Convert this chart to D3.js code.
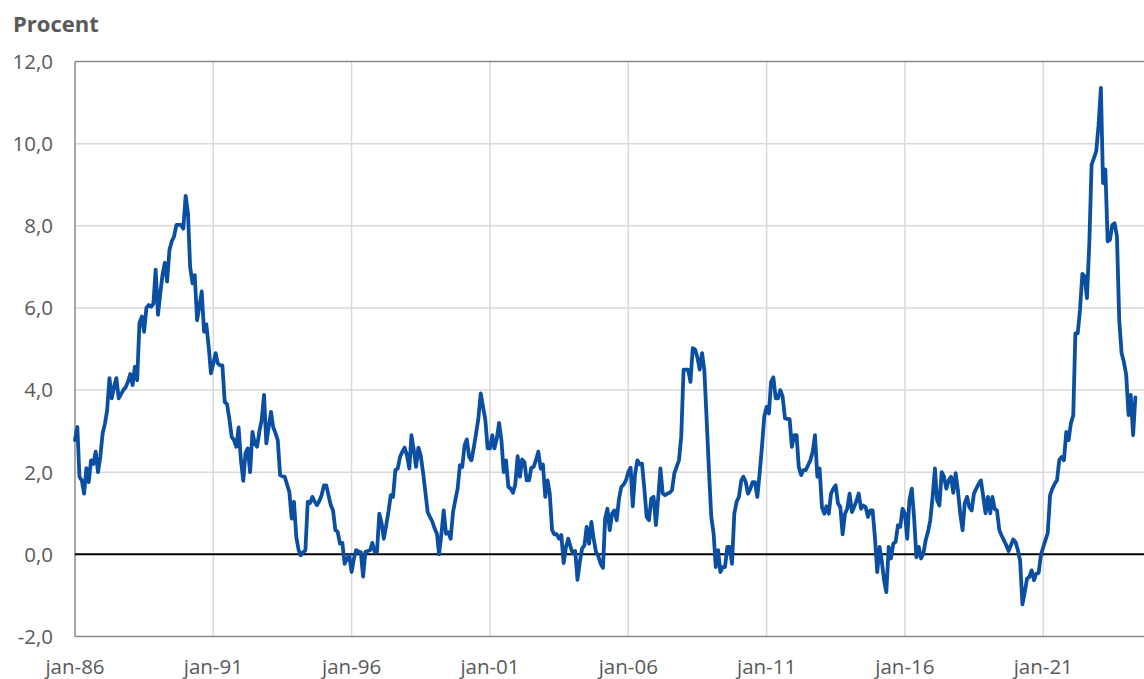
<!DOCTYPE html>
<html>
<head>
<meta charset="utf-8">
<script src="https://cdn.jsdelivr.net/npm/d3@7/dist/d3.min.js"></script>
<style>
  html, body { margin: 0; padding: 0; background: #ffffff; }
  svg { display: block; }
  text { font-family: "Open Sans", "Noto Sans", sans-serif; fill: #595959; }
</style>
</head>
<body>
<svg id="chart" width="1144" height="679"></svg>
<script>
// ---- Data (monthly, starting January 1986) ----
const startYear = 1986;
const seriesLabel = "Procent";
const values = [
  // 1986
  2.78, 3.1, 1.89, 1.8, 1.48, 2.1, 1.76, 2.29, 2.2, 2.5, 2.0, 2.37,
  // 1987
  2.95, 3.19, 3.5, 4.29, 3.8, 4.08, 4.29, 3.8, 3.9, 4.0, 4.07, 4.2,
  // 1988
  4.39, 4.12, 4.57, 4.24, 5.63, 5.79, 5.42, 6.0, 6.07, 6.03, 6.1, 6.93,
  // 1989
  5.83, 6.37, 6.8, 7.1, 6.64, 7.41, 7.62, 7.74, 8.02, 8.02, 8.02, 7.93,
  // 1990
  8.73, 8.3, 7.0, 6.6, 6.8, 5.7, 6.03, 6.4, 5.42, 5.6, 5.06, 4.41,
  // 1991
  4.65, 4.9, 4.65, 4.6, 4.6, 3.71, 3.66, 3.3, 2.86, 2.78, 2.62, 3.09,
  // 1992
  2.29, 1.79, 2.46, 2.58, 2.0, 2.98, 2.7, 2.62, 3.0, 3.27, 3.88, 2.7,
  // 1993
  3.1, 3.47, 3.1, 2.95, 2.78, 1.93, 1.9, 1.89, 1.7, 1.52, 0.87, 1.28,
  // 1994
  0.42, 0.1, -0.02, 0.05, 0.1, 1.28, 1.25, 1.4, 1.28, 1.2, 1.3, 1.44,
  // 1995
  1.68, 1.68, 1.45, 1.2, 1.07, 0.59, 0.55, 0.26, 0.28, -0.23, -0.1, -0.02,
  // 1996
  -0.43, -0.1, 0.1, 0.07, 0.05, -0.54, 0.06, 0.08, 0.1, 0.28, 0.06, 0.06,
  // 1997
  0.99, 0.75, 0.38, 0.7, 1.03, 1.44, 1.4, 2.05, 2.09, 2.37, 2.5, 2.6,
  // 1998
  2.41, 2.09, 2.9, 2.54, 2.13, 2.6, 2.41, 2.0, 1.52, 1.03, 0.91, 0.8,
  // 1999
  0.63, 0.5, 0.0, 0.5, 1.07, 0.5, 0.54, 0.38, 1.03, 1.32, 1.6, 2.17,
  // 2000
  2.13, 2.66, 2.8, 2.37, 2.29, 2.6, 2.94, 3.31, 3.92, 3.59, 3.27, 2.58,
  // 2001
  2.58, 2.9, 2.58, 2.82, 3.2, 2.78, 2.0, 2.29, 1.64, 1.6, 1.5, 1.7,
  // 2002
  2.39, 1.89, 2.31, 2.25, 1.8, 1.8, 2.11, 2.13, 2.3, 2.5, 2.09, 2.19,
  // 2003
  1.4, 1.8, 1.48, 0.59, 0.49, 0.49, 0.38, 0.47, -0.21, 0.18, 0.38, 0.18,
  // 2004
  0.02, 0.08, -0.62, -0.19, 0.14, 0.22, 0.67, 0.26, 0.79, 0.38, 0.06, -0.04,
  // 2005
  -0.23, -0.33, 0.87, 1.11, 0.59, 0.99, 1.07, 0.83, 1.36, 1.64, 1.7, 1.8,
  // 2006
  2.0, 2.11, 1.17, 1.96, 2.29, 2.19, 2.21, 1.6, 0.91, 0.83, 1.36, 1.4,
  // 2007
  0.71, 1.4, 2.09, 1.48, 1.44, 1.48, 1.5, 1.56, 1.97, 2.13, 2.29, 2.86,
  // 2008
  4.5, 4.5, 4.5, 4.2, 5.02, 4.99, 4.8, 4.5, 4.9, 4.49, 3.27, 2.05,
  // 2009
  0.91, 0.5, -0.31, 0.1, -0.43, -0.31, -0.31, 0.18, 0.18, -0.23, 0.99, 1.28,
  // 2010
  1.4, 1.8, 1.89, 1.76, 1.48, 1.6, 1.76, 1.76, 1.4, 1.97, 2.62, 3.35,
  // 2011
  3.59, 3.43, 4.2, 4.31, 3.8, 3.8, 4.0, 3.84, 3.31, 3.3, 3.29, 2.62,
  // 2012
  2.9, 2.9, 2.13, 1.93, 2.05, 2.05, 2.17, 2.29, 2.5, 2.9, 1.89, 2.09,
  // 2013
  1.15, 0.99, 1.17, 0.99, 1.48, 1.6, 1.68, 1.24, 1.15, 0.49, 0.99, 1.11,
  // 2014
  1.48, 1.03, 1.15, 1.3, 1.48, 1.11, 1.19, 1.15, 0.91, 1.07, 1.07, 0.42,
  // 2015
  -0.43, 0.18, -0.15, -0.63, -0.92, 0.18, -0.1, 0.26, 0.3, 0.71, 0.67, 1.11,
  // 2016
  1.0, 0.38, 1.32, 1.6, 0.91, -0.07, 0.18, -0.1, 0.02, 0.34, 0.55, 0.83,
  // 2017
  1.4, 2.09, 1.32, 1.19, 2.0, 1.89, 1.6, 1.8, 1.89, 1.5, 1.98, 1.56,
  // 2018
  0.99, 0.59, 1.24, 1.4, 1.15, 1.07, 1.48, 1.6, 1.72, 1.8, 1.4, 1.0,
  // 2019
  1.4, 1.0, 1.4, 1.1, 1.07, 0.59, 0.46, 0.34, 0.22, 0.08, 0.22, 0.36,
  // 2020
  0.3, 0.1, -0.15, -1.22, -0.92, -0.59, -0.55, -0.39, -0.63, -0.47, -0.45, -0.02,
  // 2021
  0.18, 0.36, 0.52, 1.44, 1.6, 1.72, 1.8, 2.3, 2.37, 2.29, 2.98, 2.78,
  // 2022
  3.19, 3.39, 5.38, 5.38, 5.95, 6.83, 6.77, 6.24, 7.58, 9.49, 9.65, 9.81,
  // 2023
  10.45, 11.36, 9.04, 9.37, 7.62, 7.66, 8.02, 8.06, 7.74, 5.71, 4.9, 4.69,
  // 2024
  4.37, 3.39, 3.88, 2.9, 3.82
];
const yTicks = [-2, 0, 2, 4, 6, 8, 10, 12];
const xTickYears = [1986, 1991, 1996, 2001, 2006, 2011, 2016, 2021];
const xTickLabels = ["jan-86", "jan-91", "jan-96", "jan-01", "jan-06", "jan-11", "jan-16", "jan-21"];
const axisEnd = new Date(2024, 7, 23);

// ---- Chart ----
(function () {
  const svg = d3.select("#chart");
  const pL = 75, pR = 1144, pT = 61.5, pB = 636.5;

  const data = values.map((v, i) => ({ date: new Date(startYear, i, 1), value: v }));

  const x = d3.scaleTime()
    .domain([new Date(startYear, 0, 1), axisEnd])
    .range([pL, pR]);
  const y = d3.scaleLinear()
    .domain([-2, 12])
    .range([pB, pT]);

  const fmtY = d => (d < 0 ? "-" : "") + Math.abs(d).toFixed(1).replace(".", ",");

  // horizontal gridlines
  svg.append("g").selectAll("line")
    .data(yTicks.filter(d => d !== 0 && d !== -2 && d !== 12))
    .join("line")
    .attr("x1", pL).attr("x2", pR)
    .attr("y1", d => y(d)).attr("y2", d => y(d))
    .attr("stroke", "#d9d9d9")
    .attr("stroke-width", 1.5);

  // vertical gridlines
  const xTickDates = xTickYears.map(yr => new Date(yr, 0, 1));
  svg.append("g").selectAll("line")
    .data(xTickDates.slice(1))
    .join("line")
    .attr("x1", d => x(d)).attr("x2", d => x(d))
    .attr("y1", pT).attr("y2", pB)
    .attr("stroke", "#d9d9d9")
    .attr("stroke-width", 1.5);

  // frame lines (left, top, bottom)
  svg.append("line")
    .attr("x1", pL).attr("x2", pL).attr("y1", pT).attr("y2", pB)
    .attr("stroke", "#8a8a8a").attr("stroke-width", 1.5);
  svg.append("line")
    .attr("x1", pL).attr("x2", pR).attr("y1", y(12)).attr("y2", y(12))
    .attr("stroke", "#8a8a8a").attr("stroke-width", 1.5);
  svg.append("line")
    .attr("x1", pL).attr("x2", pR).attr("y1", y(-2)).attr("y2", y(-2))
    .attr("stroke", "#8a8a8a").attr("stroke-width", 1.5);

  // zero line
  svg.append("line")
    .attr("x1", pL).attr("x2", pR).attr("y1", y(0)).attr("y2", y(0))
    .attr("stroke", "#000000").attr("stroke-width", 2);

  // y labels
  svg.append("g").selectAll("text")
    .data(yTicks)
    .join("text")
    .attr("x", 53)
    .attr("y", d => y(d) + 7.3)
    .attr("text-anchor", "end")
    .attr("font-size", "20.5px")
    .text(fmtY);

  // x labels
  svg.append("g").selectAll("text")
    .data(xTickDates)
    .join("text")
    .attr("x", d => x(d))
    .attr("y", 674)
    .attr("text-anchor", "middle")
    .attr("font-size", "20.5px")
    .text((d, i) => xTickLabels[i]);

  // title
  svg.append("text")
    .attr("x", 13).attr("y", 32)
    .attr("font-size", "22px")
    .attr("font-weight", "bold")
    .text(seriesLabel);

  // line
  const line = d3.line()
    .x(d => x(d.date))
    .y(d => y(d.value));

  svg.append("path")
    .datum(data)
    .attr("d", line)
    .attr("fill", "none")
    .attr("stroke", "#0b4fa3")
    .attr("stroke-width", 3.8)
    .attr("stroke-linejoin", "round")
    .attr("stroke-linecap", "round");
})();
</script>
</body>
</html>
